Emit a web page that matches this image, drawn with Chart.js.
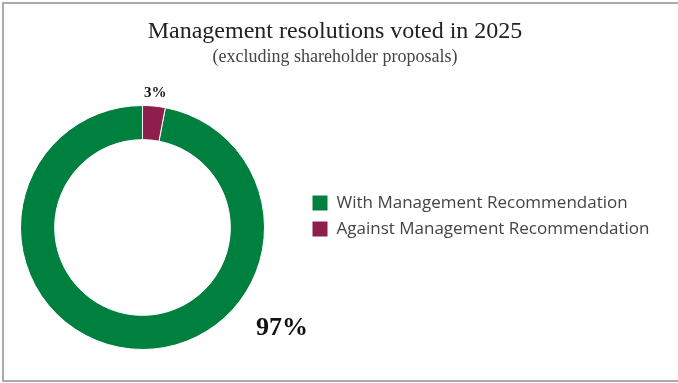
<!DOCTYPE html>
<html>
<head>
<meta charset="utf-8">
<script src="https://cdn.jsdelivr.net/npm/chart.js@4.4.1/dist/chart.umd.min.js"></script>
<style>
  html, body { margin: 0; padding: 0; background: #fff; }
  body { width: 678px; height: 383px; position: relative; overflow: hidden; }
  .marco {
    position: absolute; left: 2px; top: 2px; right: -6px; bottom: 1px;
    border-left: 2px solid #ababab; border-top: 2px solid #ababab; border-bottom: 2px solid #ababab;
  }
  .caja { position: absolute; left: 20px; top: 0; width: 640px; height: 383px; }
</style>
</head>
<body>
<div class="marco"></div>
<div class="caja"><canvas id="graficoVotos"></canvas></div>
<script>
// datos de votacion 2025
const categorias = ['With Management Recommendation', 'Against Management Recommendation'];
const porcentajes = [97, 3];
const colores = ['#00803e', '#8e1f4c'];

const serif = "'Liberation Serif', 'DejaVu Serif', serif";

// ancho fijo de la leyenda para que el anillo quede a la izquierda
const ANCHO_LEYENDA = 385;

const ubicarLeyenda = {
  id: 'ubicarLeyenda',
  afterInit(chart) {
    const fitOriginal = chart.legend.fit;
    chart.legend.fit = function () {
      fitOriginal.call(this);
      this.width = ANCHO_LEYENDA;
    };
  },
  afterLayout(chart, args, opts) {
    const l = chart.legend;
    l.left += opts.dx; l.right += opts.dx;
    l.top += opts.dy; l.bottom += opts.dy;
  }
};

// etiquetas de porcentaje alrededor del anillo
const etiquetasPct = {
  id: 'etiquetasPct',
  afterDraw(chart, args, opts) {
    const ctx = chart.ctx;
    const arcos = chart.getDatasetMeta(0).data;
    ctx.save();
    ctx.fillStyle = '#111';
    ctx.textAlign = 'center';
    ctx.textBaseline = 'middle';
    arcos.forEach(function (arco, i) {
      const cfg = opts.puntos[i];
      const medio = (arco.startAngle + arco.endAngle) / 2;
      const ang = cfg.angulo != null ? (cfg.angulo - 90) * Math.PI / 180 : medio;
      const d = arco.outerRadius + cfg.dist;
      ctx.font = 'bold ' + cfg.tam + 'px ' + serif;
      ctx.fillText(porcentajes[i] + '%', arco.x + Math.cos(ang) * d, arco.y + Math.sin(ang) * d);
    });
    ctx.restore();
  }
};

new Chart(document.getElementById('graficoVotos'), {
  type: 'doughnut',
  data: {
    labels: categorias,
    datasets: [{
      data: porcentajes,
      backgroundColor: colores,
      borderColor: '#fff',
      borderWidth: 1,
      hoverOffset: 0
    }]
  },
  options: {
    responsive: true,
    maintainAspectRatio: false,
    animation: false,
    rotation: 10.8,
    cutout: '72%',
    layout: { padding: { left: 0, right: 10, top: 0, bottom: 28 } },
    plugins: {
      title: {
        display: true,
        text: 'Management resolutions voted in 2025',
        color: '#222',
        font: { family: serif, size: 24, weight: 'normal' },
        padding: { top: 17.5, bottom: 0 }
      },
      subtitle: {
        display: true,
        text: '(excluding shareholder proposals)',
        color: '#444',
        font: { family: serif, size: 18, weight: 'normal' },
        padding: { top: 0, bottom: 32.1 }
      },
      legend: {
        position: 'right',
        fullSize: false,
        labels: {
          boxWidth: 16,
          boxHeight: 16,
          padding: 9,
          color: '#444',
          font: { family: "'Open Sans', sans-serif", size: 17 }
        }
      },
      tooltip: { enabled: false },
      ubicarLeyenda: { dx: 38, dy: -11.5 },
      etiquetasPct: {
        puntos: [
          { angulo: 125.8, dist: 50, tam: 26 },
          { dist: 13, tam: 15 }
        ]
      }
    }
  },
  plugins: [ubicarLeyenda, etiquetasPct]
});
</script>
</body>
</html>
